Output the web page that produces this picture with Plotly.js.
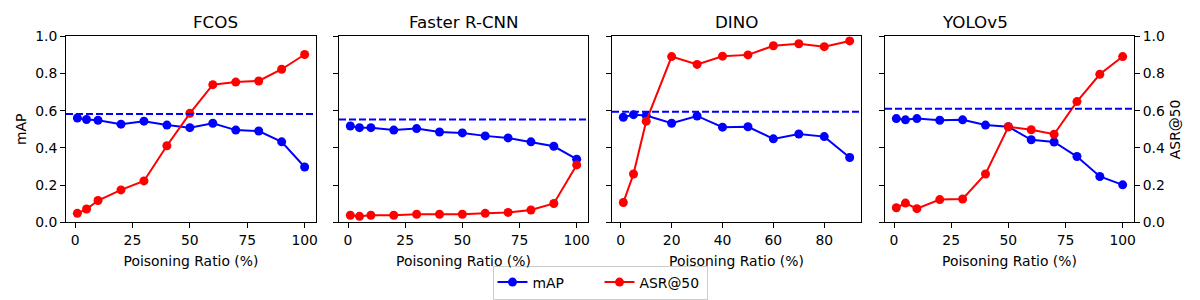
<!DOCTYPE html>
<html>
<head>
<meta charset="utf-8">
<script src="https://cdn.plot.ly/plotly-3.0.1.min.js"></script>
<style>html,body{margin:0;padding:0;background:#fff;}#chart{width:1200px;height:300px;}</style>
</head>
<body>
<div id="chart"></div>
<script>
const models = ["FCOS", "Faster R-CNN", "DINO", "YOLOv5"];
const ratiosFull = [1, 5, 10, 20, 30, 40, 50, 60, 70, 80, 90, 100];
const ratiosDino = [1, 5, 10, 20, 30, 40, 50, 60, 70, 80, 90];

const mapFcos   = [0.561, 0.553, 0.549, 0.528, 0.544, 0.523, 0.509, 0.533, 0.496, 0.491, 0.433, 0.298];
const asrFcos   = [0.049, 0.072, 0.118, 0.175, 0.223, 0.412, 0.586, 0.740, 0.754, 0.760, 0.823, 0.902];
const mapFaster = [0.518, 0.509, 0.509, 0.496, 0.504, 0.486, 0.481, 0.465, 0.454, 0.433, 0.409, 0.340];
const asrFaster = [0.039, 0.033, 0.039, 0.039, 0.044, 0.044, 0.044, 0.049, 0.054, 0.067, 0.102, 0.309];
const mapDino   = [0.565, 0.579, 0.574, 0.533, 0.572, 0.512, 0.514, 0.449, 0.475, 0.461, 0.349];
const asrDino   = [0.107, 0.260, 0.544, 0.891, 0.849, 0.893, 0.900, 0.949, 0.960, 0.944, 0.975];
const mapYolo   = [0.558, 0.551, 0.558, 0.549, 0.551, 0.523, 0.514, 0.444, 0.432, 0.354, 0.247, 0.202];
const asrYolo   = [0.079, 0.104, 0.074, 0.123, 0.126, 0.260, 0.514, 0.498, 0.474, 0.649, 0.796, 0.891];
const cleanMap  = [0.582, 0.553, 0.595, 0.611];

const xTicksFull = [0, 25, 50, 75, 100];
const xTicksDino = [0, 20, 40, 60, 80];
const yTicks = [0, 0.2, 0.4, 0.6, 0.8, 1.0];

const xs = [ratiosFull, ratiosFull, ratiosDino, ratiosFull];
const maps = [mapFcos, mapFaster, mapDino, mapYolo];
const asrs = [asrFcos, asrFaster, asrDino, asrYolo];
const xticks = [xTicksFull, xTicksFull, xTicksDino, xTicksFull];

const W = 1200, H = 300;
const pxDomains = [[66, 316], [339, 588], [612, 861], [885, 1134]];
const yDom = [(H - 227) / H, (H - 37) / H];
const FONT = "DejaVu Sans, sans-serif";

const traces = [];
const layout = {
  width: W, height: H,
  margin: {l: 0, r: 0, t: 0, b: 0},
  paper_bgcolor: "#fff", plot_bgcolor: "#fff",
  font: {family: FONT, size: 13.9, color: "#000"},
  showlegend: true,
  legend: {
    orientation: "h", x: 0.5, xanchor: "center", y: 29 / H, yanchor: "top",
    bordercolor: "#cccccc", borderwidth: 1, bgcolor: "#fff",
    font: {family: FONT, size: 13.9}, itemwidth: 30, entrywidth: 62, tracegroupgap: 0
  },
  annotations: [], shapes: []
};

for (let i = 0; i < 4; i++) {
  const n = i + 1;
  const xa = "x" + (n === 1 ? "" : n), ya = "y" + (n === 1 ? "" : n);
  const xmin = Math.min(...xs[i]), xmax = Math.max(...xs[i]);
  const pad = (xmax - xmin) * 0.05;
  traces.push({
    x: xs[i], y: maps[i], xaxis: xa, yaxis: ya, type: "scatter", mode: "lines+markers",
    name: "mAP", legendgroup: "map", showlegend: i === 0,
    line: {color: "blue", width: 2}, marker: {color: "blue", size: 9}
  });
  traces.push({
    x: xs[i], y: asrs[i], xaxis: xa, yaxis: ya, type: "scatter", mode: "lines+markers",
    name: "ASR@50", legendgroup: "asr", showlegend: i === 0,
    line: {color: "red", width: 2}, marker: {color: "red", size: 9}
  });
  const d = pxDomains[i];
  layout["xaxis" + (n === 1 ? "" : n)] = {
    domain: [d[0] / W, d[1] / W], anchor: ya,
    range: [xmin - pad, xmax + pad], tickvals: xticks[i],
    ticks: "outside", ticklen: 5, tickwidth: 1, tickcolor: "#000",
    showline: true, mirror: true, linecolor: "#000", linewidth: 1,
    showgrid: false, zeroline: false,
    tickfont: {family: FONT, size: 13.9},
    title: {text: "Poisoning Ratio (%)", font: {family: FONT, size: 13.9}, standoff: 9}
  };
  layout["yaxis" + (n === 1 ? "" : n)] = {
    domain: yDom, anchor: xa, range: [0, 1], tickvals: yTicks, tickformat: ".1f",
    ticks: "outside", ticklen: 5, tickwidth: 1, tickcolor: "#000",
    showline: true, mirror: true, linecolor: "#000", linewidth: 1,
    showgrid: false, zeroline: false, showticklabels: i === 0,
    tickfont: {family: FONT, size: 13.9},
    title: i === 0 ? {text: "mAP", font: {family: FONT, size: 13.9}, standoff: 5} : {text: ""}
  };
  layout.shapes.push({
    type: "line", xref: xa + " domain", yref: ya, x0: 0, x1: 1, y0: cleanMap[i], y1: cleanMap[i],
    line: {color: "blue", width: 2, dash: "7px,3px"}, layer: "above"
  });
  layout.annotations.push({
    text: models[i], xref: "paper", yref: "paper",
    x: (d[0] + d[1]) / 2 / W, y: yDom[1], yanchor: "bottom", yshift: 2,
    showarrow: false, font: {family: FONT, size: 16.7, color: "#000"}
  });
}

layout.yaxis5 = {
  overlaying: "y4", anchor: "x4", side: "right", range: [0, 1], tickvals: yTicks, tickformat: ".1f",
  ticks: "outside", ticklen: 5, tickwidth: 1, tickcolor: "#000",
  showline: false, showgrid: false, zeroline: false,
  tickfont: {family: FONT, size: 13.9},
  title: {text: "ASR@50", font: {family: FONT, size: 13.9}, standoff: 6}
};
traces.push({x: [null], y: [null], xaxis: "x4", yaxis: "y5", type: "scatter", showlegend: false, hoverinfo: "skip"});

Plotly.newPlot("chart", traces, layout, {staticPlot: true, displayModeBar: false});
</script>
</body>
</html>
